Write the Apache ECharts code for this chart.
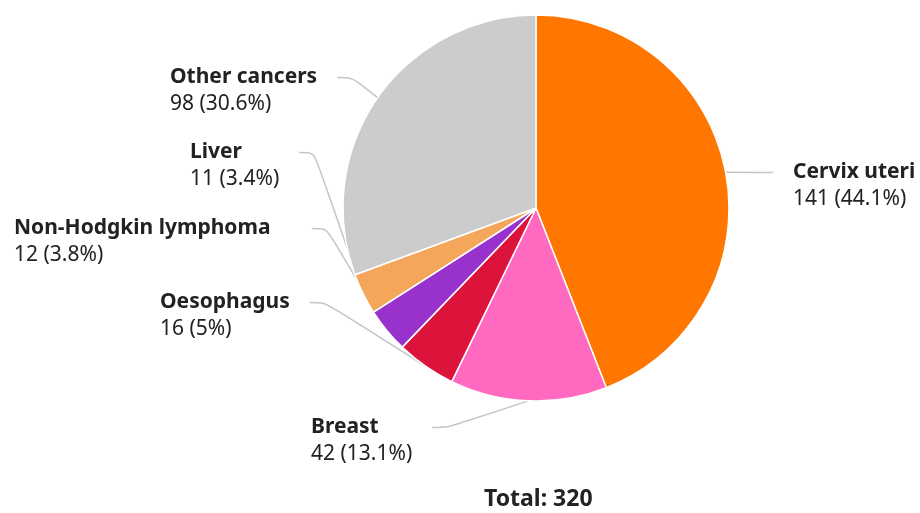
<!DOCTYPE html>
<html>
<head>
<meta charset="utf-8">
<script src="https://cdn.jsdelivr.net/npm/echarts@6/dist/echarts.min.js"></script>
<style>
  html, body { margin: 0; padding: 0; background: #ffffff; }
  #chart { width: 920px; height: 513px; }
</style>
</head>
<body>
<div id="chart"></div>
<script>
  var categories = ['Cervix uteri', 'Breast', 'Oesophagus', 'Non-Hodgkin lymphoma', 'Liver', 'Other cancers']
  var counts = [141, 42, 16, 12, 11, 98]
  var colors = ['#ff7700', '#ff69c0', '#dc143c', '#9932cc', '#f4a65a', '#cccccc']

  var total = counts.reduce(function (a, b) { return a + b }, 0)

  // label block position (left, top) incl. padding
  var labelPos = {
    'Cervix uteri': [773, 132],
    'Breast': [291, 387],
    'Oesophagus': [140, 262],
    'Non-Hodgkin lymphoma': [-6, 188],
    'Liver': [170, 112],
    'Other cancers': [150, 37]
  }

  var pieData = categories.map(function (name, i) {
    return { name: name, value: counts[i], itemStyle: { color: colors[i] } }
  })

  var myChart = echarts.init(document.getElementById('chart'))
  var option = {
    animation: false,
    textStyle: { fontFamily: 'Noto Sans' },
    title: {
      text: 'Total: ' + total,
      left: 479,
      top: 483,
      textStyle: { fontSize: 23, fontWeight: 'bold', color: '#222222', fontFamily: 'Noto Sans' }
    },
    series: [
      {
        type: 'pie',
        center: [536, 208],
        radius: [0, 193],
        startAngle: 90,
        clockwise: true,
        itemStyle: { borderColor: '#ffffff', borderWidth: 1.5 },
        label: {
          show: true,
          overflow: 'none',
          padding: [27, 20, 0, 20],
          backgroundColor: 'rgba(255,255,255,0)',
          formatter: function (p) {
            var pct = Math.round(p.value / total * 1000) / 10
            return '{n|' + p.name + '}\n{v|' + p.value + ' (' + pct + '%)}'
          },
          rich: {
            n: { fontSize: 21, fontWeight: 'bold', color: '#222222', fontFamily: 'Noto Sans', lineHeight: 27 },
            v: { fontSize: 21, color: '#222222', fontFamily: 'Noto Sans', lineHeight: 27 }
          }
        },
        labelLine: {
          show: true,
          smooth: 0.3,
          length2: 15,
          lineStyle: { color: '#c4c4c4', width: 1.5 }
        },
        labelLayout: function (params) {
          var pos = labelPos[categories[params.dataIndex]]
          return { x: pos[0], y: pos[1], align: 'left', verticalAlign: 'top' }
        },
        data: pieData
      }
    ]
  }
  myChart.setOption(option)
</script>
</body>
</html>
